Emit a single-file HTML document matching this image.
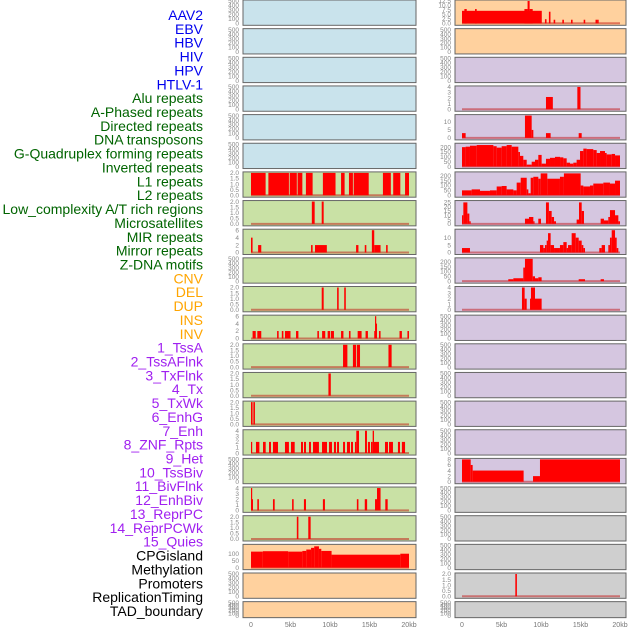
<!DOCTYPE html>
<html><head><meta charset="utf-8"><style>
html,body{margin:0;padding:0;background:#fff;}
svg{display:block;font-family:"Liberation Sans",sans-serif;}
</style></head><body>
<svg id="chart" width="630" height="630" viewBox="0 0 630 630" xmlns="http://www.w3.org/2000/svg"></svg>
<script>
// ---- Labels ----
const labelsBlue = ["AAV2","EBV","HBV","HIV","HPV","HTLV-1"];
const labelsGreen = ["Alu repeats","A-Phased repeats","Directed repeats","DNA transposons","G-Quadruplex forming repeats","Inverted repeats","L1 repeats","L2 repeats","Low_complexity A/T rich regions","Microsatellites","MIR repeats","Mirror repeats","Z-DNA motifs"];
const labelsOrange = ["CNV","DEL","DUP","INS","INV"];
const labelsPurple = ["1_TssA","2_TssAFlnk","3_TxFlnk","4_Tx","5_TxWk","6_EnhG","7_Enh","8_ZNF_Rpts","9_Het","10_TssBiv","11_BivFlnk","12_EnhBiv","13_ReprPC","14_ReprPCWk","15_Quies"];
const labelsBlack = ["CPGisland","Methylation","Promoters","ReplicationTiming","TAD_boundary"];
const xTicks = [0,5,10,15,20];
const xTickLabels = ["0","5kb","10kb","15kb","20kb"];

// ---- Left column data: [startKb, endKb, value] ----
const segL6 = [[0,1.85,2],[2.2,4.8,2],[4.9,5.8,2],[5.9,6.5,2],[6.95,7.8,2],[9.1,10.7,2],[11.4,11.85,2],[12.4,12.9,2],[13,14.9,2],[16.7,17.7,2],[18,18.9,2],[19.5,20,2]];
const segL7 = [[7.7,8.06,2],[8.95,9.2,2]];
const segL8 = [[0,0.2,4],[0.9,1.3,2],[7.6,7.8,2],[8.1,9.6,2],[13.3,13.6,2],[14.4,14.6,2],[15.3,15.6,6],[15.6,16.4,2],[17.1,17.3,2]];
const segL10 = [[8.95,9.2,2],[10.9,11.1,2],[11.8,12,2]];
const segL11 = [[0.2,0.6,2],[0.8,1.3,2],[3.3,3.5,2],[3.9,4.1,2],[4.3,5.0,2],[5.7,6.0,2],[8.4,8.6,2],[9.0,9.4,2],[9.7,10.0,2],[10.1,10.5,2],[11.4,11.7,2],[12.4,12.6,2],[13.5,14.0,2],[14.5,14.8,2],[15.6,15.7,2],[15.7,15.8,6],[15.8,15.9,4],[16.2,16.4,2],[18.8,19.1,2],[19.8,20,2]];
const segL12 = [[11.65,12.2,2],[12.9,13.3,2],[13.4,13.8,2],[17.4,17.8,2]];
const segL13 = [[9.8,10.1,2]];
const segL14 = [[0,0.2,2],[0.3,0.5,2]];
const segL15 = [[0,0.13,2],[0.63,1.06,2],[1.52,1.86,2],[2.28,2.53,2],[2.78,3.42,2],[4.3,4.8,2],[5.06,5.53,2],[6.33,6.58,2],[6.71,6.96,2],[7.34,7.59,2],[7.85,8.6,2],[8.99,9.62,2],[9.87,10.25,2],[10.5,10.76,2],[10.89,11.14,2],[11.65,11.9,2],[12.15,12.53,2],[12.66,12.91,2],[13.16,13.33,2],[13.33,13.67,4],[14.43,14.68,4],[14.8,15.06,2],[15.19,15.4,2],[15.4,15.57,4],[15.57,16.2,2],[16.96,17.34,2],[17.47,17.97,2],[18.6,18.86,2],[19.1,19.5,2]];
const segL17 = [[0,0.1,4],[0.1,0.2,2],[0.8,1.0,2],[2.78,3.0,2],[5.2,5.4,2],[6.7,6.96,2],[9.1,9.36,2],[13.4,13.6,2],[14.4,14.7,2],[15.7,15.95,2],[15.95,16.4,4],[17.0,17.3,2]];
const segL18 = [[5.8,6.0,2],[7.25,7.55,2]];
const segL19 = [[0,1.5,115],[1.5,4.7,118],[4.7,6.5,115],[6.5,7.0,120],[7.0,7.6,130],[7.6,8.0,142],[8.0,8.6,153],[8.6,8.9,135],[8.9,10.2,120],[10.2,18.9,93],[18.9,20,100]];

// ---- Right column data ----
const segR0 = [[0,10.1,7],[0.3,0.6,8],[1.65,1.86,8],[7.9,8.3,8],[8.3,8.56,12.5],[8.56,8.95,8],[10.5,10.7,2.3],[11,11.2,6.5],[11.6,11.8,2],[12.7,12.9,2],[13.8,14,2],[15.4,15.6,2],[16.9,17.1,2],[17.1,17.3,2]];
const segR3 = [[10.63,11.5,2.2],[14.6,15.0,4]];
const segR4 = [[0,0.46,3],[7.97,8.82,14],[8.82,9.03,5],[10.63,11.22,3],[14.77,15.15,3]];
const segR5 = [[0,.46,200],[.46,1.01,205],[1.01,1.86,215],[1.86,3.97,222],[3.97,4.39,210],[4.39,5.02,195],[5.02,5.65,210],[5.65,6.29,222],[6.29,7.13,205],[7.13,7.34,150],[7.34,7.76,110],[7.76,8.19,70],[8.19,8.82,20],[8.82,9.24,50],[9.24,9.66,70],[9.66,10.08,120],[10.08,10.63,30],[10.63,11.14,80],[11.14,11.77,90],[11.77,12.41,100],[12.41,12.83,95],[12.83,13.25,85],[13.25,13.67,40],[13.67,14.09,30],[14.09,14.51,40],[14.51,14.94,70],[14.94,15.36,160],[15.36,15.78,185],[15.78,16.62,180],[16.62,17.05,170],[17.05,17.47,140],[17.47,18.1,160],[18.1,18.31,140],[18.31,18.95,125],[18.95,19.37,130],[19.37,20,115]];
const segR6 = [[0,1.22,50],[1.22,2.28,60],[2.28,3.54,45],[3.54,4.39,50],[4.39,5.02,90],[5.02,5.65,95],[5.65,6.5,60],[6.5,6.92,50],[6.92,7.43,130],[7.43,8.19,180],[8.19,8.4,60],[8.4,8.69,20],[8.69,9.03,180],[9.03,9.66,190],[9.66,9.96,170],[9.96,10.8,225],[10.8,12.4,170],[12.4,12.9,190],[12.9,15.02,225],[15.02,15.36,100],[15.36,16.2,90],[16.2,16.62,100],[16.62,17.89,120],[17.89,18.73,130],[18.73,19.37,120],[19.37,20,150]];
const segR7 = [[0,.17,10],[.17,.68,25],[.68,.93,12],[.93,1.1,3],[7.97,8.48,6],[8.48,9.03,8],[9.03,9.16,3],[9.66,10.0,6],[10.63,11.0,25],[11.0,11.35,15],[11.35,11.65,8],[11.65,11.9,3],[14.51,14.81,5],[14.81,15.15,25],[15.15,15.44,15],[17.55,17.97,6],[17.97,18.52,4],[18.52,18.73,8],[18.73,19.37,16],[19.37,19.79,10],[19.79,20,3]];
const segR8 = [[0,1.01,3],[9.87,10.3,5],[10.3,10.5,3],[10.5,10.72,5],[10.72,10.89,8],[10.89,11.22,13],[11.22,11.65,5],[11.65,12.4,3],[12.4,12.83,5],[12.83,13.25,7],[13.25,13.42,3],[13.42,13.88,5],[13.88,14.39,13],[14.39,14.77,10],[14.77,15.15,8],[15.15,15.36,5],[15.36,15.57,3],[17.38,17.68,3],[17.68,18.1,5],[18.52,18.73,5],[18.73,18.95,10],[18.95,19.37,15],[19.37,19.58,10],[19.58,19.79,3]];
const segR9 = [[5.86,6.5,20],[6.5,7.76,30],[7.76,7.97,140],[7.97,8.95,230],[8.95,9.24,50],[9.24,9.66,30],[9.66,10.08,40],[14.77,15.57,20],[17.55,17.97,20]];
const segR10 = [[7.59,7.93,4],[7.93,8.19,2],[8.61,8.73,2],[8.73,9.24,4],[9.24,10.08,2]];
const segR16 = [[0,1.1,8],[1.1,1.35,6],[1.35,7.8,4],[8.99,9.87,2],[9.87,20,8]];
const segR20 = [[6.75,6.95,2]];

// ---- Axis ticks ----
const ticksEmpty = [0,100,200,300,400,500];
const ticks2 = [0,0.5,1,1.5,2];
const ticks4 = [0,1,2,3,4];
const ticks6 = [0,2,4,6];
const ticks8 = [0,2,4,6,8];
const ticksAAV = [0,2.5,5,7.5,10,12.5];
const ticks15 = [0,5,10];
const ticks25 = [0,5,10,15,20,25];
const ticks200 = [0,50,100,150,200];
const ticks100 = [0,50,100];

const BLUE="#c9e3ec", GREEN="#c9e1a5", ORANGE="#ffd19e", PURPLE="#d5c6e0", GRAY="#cfcfcf";
const leftBg = r => r<6?BLUE:(r<19?GREEN:ORANGE);
const rightBg = r => r<2?ORANGE:(r<17?PURPLE:GRAY);

const leftSpec = {6:[segL6,2,ticks2,1],7:[segL7,2,ticks2,1],8:[segL8,6,ticks6,0],10:[segL10,2,ticks2,1],11:[segL11,6,ticks6,0],12:[segL12,2,ticks2,1],13:[segL13,2,ticks2,1],14:[segL14,2,ticks2,1],15:[segL15,4,ticks4,0],17:[segL17,4,ticks4,0],18:[segL18,2,ticks2,1],19:[segL19,160,ticks100,0]};
const rightSpec = {0:[segR0,12.5,ticksAAV,1],3:[segR3,4,ticks4,0],4:[segR4,14,ticks15,0],5:[segR5,230,ticks200,0],6:[segR6,230,ticks200,0],7:[segR7,26,ticks25,0],8:[segR8,15,ticks15,0],9:[segR9,230,ticks200,0],10:[segR10,4,ticks4,0],16:[segR16,8,ticks8,0],20:[segR20,2,ticks2,1]};

const svg = document.getElementById('chart');
const NS = "http://www.w3.org/2000/svg";
function mk(tag, attrs, parent){ const e=document.createElementNS(NS,tag); for(const k in attrs) e.setAttribute(k,attrs[k]); (parent||svg).appendChild(e); return e; }

// Labels
const allLabels = [].concat(labelsBlue.map(t=>[t,"#0000ee"]),labelsGreen.map(t=>[t,"#006400"]),labelsOrange.map(t=>[t,"#ffa500"]),labelsPurple.map(t=>[t,"#a020f0"]),labelsBlack.map(t=>[t,"#000"]));
allLabels.forEach((l,i)=>{
  const t = mk('text',{x:203,y:20+i*13.86,'text-anchor':'end','font-size':'14',fill:l[1]});
  t.textContent = l[0];
  
  
});

const PITCH = 28.65, H = 25.3;
const cols = [{px0:243,px1:416,x0:251,x1:409},{px0:455,px1:626,x0:462,x1:620}];

function drawPanel(ci, r){
  const c = cols[ci];
  const top = r*PITCH;
  const h = r===21 ? 16 : H;
  const g = mk('g',{});
  
  
  mk('rect',{x:c.px0,y:top,width:c.px1-c.px0,height:h,fill:ci===0?leftBg(r):rightBg(r),stroke:'#666','stroke-width':1},g);
  const spec = (ci===0?leftSpec:rightSpec)[r];
  const segs = spec?spec[0]:null, ymax = spec?spec[1]:500, ticks = spec?spec[2]:ticksEmpty, dec = spec?spec[3]:0;
  const yb = top+h-2, yt = top+1;
  const ys = v => yb - (v/ymax)*(yb-yt);
  const xs = kb => c.x0 + (kb/20)*(c.x1-c.x0);
  ticks.forEach(v=>{
    const t = mk('text',{x:c.px0-4,y:ys(v)+2.2,'text-anchor':'end','font-size':'6.5',fill:'#888'},g);
    t.textContent = dec? v.toFixed(1) : String(v);
    
    
  });
  if(segs){
    mk('line',{x1:xs(0),x2:xs(20),y1:yb,y2:yb,stroke:'rgba(190,0,0,0.45)','stroke-width':2},g);
    segs.forEach(s=>{
      const x = xs(s[0]), w = Math.max(1.2, xs(s[1])-xs(s[0]));
      const b = mk('rect',{x:x,y:ys(s[2]),width:w,height:yb-ys(s[2]),fill:'#ff0000'},g);
      
      
    });
  }
}
for(let r=0;r<22;r++){ drawPanel(0,r); drawPanel(1,r); }

// X axis labels
cols.forEach(c=>{
  xTicks.forEach((v,i)=>{
    const t = mk('text',{x:c.x0+(v/20)*(c.x1-c.x0),y:627,'text-anchor':'middle','font-size':'7',fill:'#777'});
    t.textContent = xTickLabels[i];
    
    
  });
});
</script>
</body></html>
